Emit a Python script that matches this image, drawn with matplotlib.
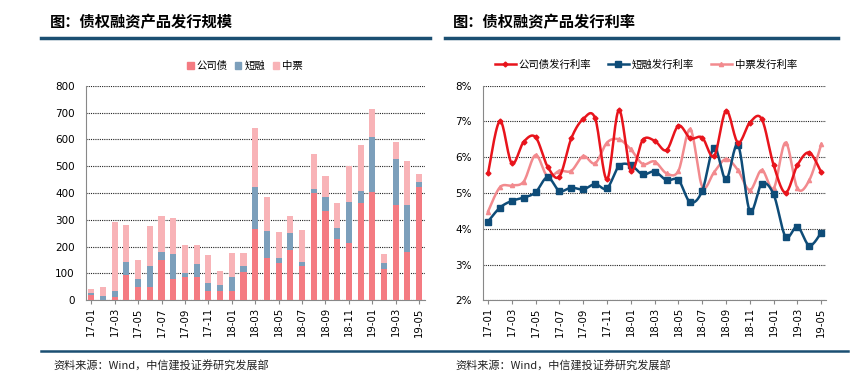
import numpy as np
import matplotlib
matplotlib.use("Agg")
import matplotlib.pyplot as plt
from matplotlib.lines import Line2D
from matplotlib.patches import Patch

plt.rcParams['font.family'] = ['Noto Sans CJK SC', 'DejaVu Sans']

months = ['17-01','17-02','17-03','17-04','17-05','17-06','17-07','17-08','17-09','17-10','17-11','17-12',
          '18-01','18-02','18-03','18-04','18-05','18-06','18-07','18-08','18-09','18-10','18-11','18-12',
          '19-01','19-02','19-03','19-04','19-05']

corp_bond = [19, 2, 11, 93, 48, 48, 150, 81, 86, 88, 35, 35, 35, 104, 266, 159, 140, 186, 129, 401, 332, 229, 215, 363, 404, 117, 354, 180, 424]
short_fin = [10, 15, 25, 51, 30, 81, 30, 93, 15, 49, 31, 23, 53, 25, 155, 101, 19, 65, 15, 13, 54, 41, 151, 44, 203, 23, 173, 174, 18]
mtn = [13, 31, 257, 136, 74, 149, 134, 134, 104, 68, 103, 50, 90, 46, 220, 126, 96, 63, 118, 130, 76, 93, 133, 171, 106, 31, 63, 164, 29]

corp_rate = [5.55, 7.01, 5.83, 6.43, 6.56, 5.74, 5.46, 6.53, 7.07, 7.09, 5.38, 7.32, 5.62, 6.48, 6.46, 6.20, 6.88, 6.53, 6.55, 6.03, 7.30, 6.41, 6.97, 7.07, 5.78, 5.01, 5.78, 6.13, 5.58]
short_rate = [4.20, 4.59, 4.78, 4.87, 5.02, 5.44, 5.06, 5.15, 5.10, 5.25, 5.13, 5.75, 5.78, 5.52, 5.60, 5.36, 5.36, 4.74, 5.06, 6.27, 5.38, 6.34, 4.50, 5.26, 4.96, 3.78, 4.06, 3.53, 3.89]
mtn_rate = [4.48, 5.16, 5.21, 5.32, 6.06, 5.46, 5.62, 5.62, 6.03, 5.83, 6.41, 6.50, 6.22, 5.81, 5.88, 5.55, 5.62, 6.78, 5.18, 5.58, 5.95, 5.64, 5.08, 5.64, 5.13, 6.41, 5.13, 5.36, 6.36]

bar_labels = ['公司债', '短融', '中票']
line_labels = ['公司债发行利率', '短融发行利率', '中票发行利率']

W, H = 851, 389
fig = plt.figure(figsize=(W/100, H/100), dpi=100)

def ax_rect(x0, y0, x1, y1):
    return [x0/W, 1 - y1/H, (x1-x0)/W, (y1-y0)/H]

def smooth(xs, ys, n=16):
    xs = np.asarray(xs, float); ys = np.asarray(ys, float)
    P = np.column_stack([xs, ys])
    out = []
    for i in range(len(P)-1):
        p0 = P[i-1] if i > 0 else P[i]
        p1 = P[i]; p2 = P[i+1]
        p3 = P[i+2] if i+2 < len(P) else P[i+1]
        c1 = p1 + (p2 - p0)/6
        c2 = p2 - (p3 - p1)/6
        t = np.linspace(0, 1, n, endpoint=(i == len(P)-2))[:, None]
        seg = (1-t)**3*p1 + 3*(1-t)**2*t*c1 + 3*(1-t)*t**2*c2 + t**3*p2
        out.append(seg)
    out = np.vstack(out)
    return out[:, 0], out[:, 1]

dark = '#1B4F72'
# titles and rules
fig.text(50/W, 1-22/H, '图：债权融资产品发行规模', fontsize=11, fontweight='heavy', va='center', ha='left')
fig.text(453/W, 1-22/H, '图：债权融资产品发行利率', fontsize=11, fontweight='heavy', va='center', ha='left')
fig.add_artist(Line2D([41/W, 430/W], [1-38/H, 1-38/H], color=dark, lw=2.5))
fig.add_artist(Line2D([445/W, 838/W], [1-38/H, 1-38/H], color=dark, lw=2.5))
fig.add_artist(Line2D([41/W, 848/W], [1-351/H, 1-351/H], color=dark, lw=1.8))
fig.text(53/W, 1-366/H, '资料来源：Wind，中信建投证券研究发展部', fontsize=8, style='italic', va='center', ha='left', color='#222222')
fig.text(455/W, 1-366/H, '资料来源：Wind，中信建投证券研究发展部', fontsize=8, style='italic', va='center', ha='left', color='#222222')

x = np.arange(len(months))

# ---- left: stacked bars
c_red, c_blue, c_pink = '#F47B82', '#7C9FBB', '#F8B3B7'
ax1 = fig.add_axes(ax_rect(86, 85.7, 425, 300.3))
b1 = np.array(corp_bond); b2 = np.array(short_fin); b3 = np.array(mtn)
ax1.bar(x, b1, width=0.52, color=c_red, zorder=3)
ax1.bar(x, b2, width=0.52, bottom=b1, color=c_blue, zorder=3)
ax1.bar(x, b3, width=0.52, bottom=b1+b2, color=c_pink, zorder=3)
ax1.set_ylim(0, 800)
ax1.set_xlim(-0.45, 28.5)
ax1.set_yticks(range(0, 801, 100))
ax1.yaxis.grid(True, linestyle=(0, (1, 1)), color='#222222', lw=0.8, zorder=0)
ax1.set_xticks(x[::2])
ax1.set_xticklabels(months[::2], rotation=90, fontsize=7.3, family='DejaVu Sans')
ax1.tick_params(axis='y', labelsize=7.5, length=0, pad=8)
ax1.tick_params(axis='x', length=3, color='#888888', pad=2)
for lbl in ax1.get_yticklabels():
    lbl.set_family('DejaVu Sans')
for s in ['top', 'right']:
    ax1.spines[s].set_visible(False)
for s in ['left', 'bottom']:
    ax1.spines[s].set_color('#888888')
    ax1.spines[s].set_linewidth(0.8)
handles = [Patch(color=c) for c in (c_red, c_blue, c_pink)]
fig.legend(handles, bar_labels, loc='center', bbox_to_anchor=(245/W, 1-66/H), ncol=3, frameon=False,
           fontsize=7.5, handlelength=0.6, handleheight=0.6, handletextpad=0.3, columnspacing=0.7)

# ---- right: lines
l_red, l_blue, l_pink = '#E8141C', '#0E4C78', '#F28A8E'
ax2 = fig.add_axes(ax_rect(483, 85.7, 826, 300.3))
series = [(corp_rate, l_red, 'D', 2.5, 3), (short_rate, l_blue, 's', 4.5, 2), (mtn_rate, l_pink, '^', 3, 1)]
for ys, col, mk, ms, z in series[::-1]:
    sx, sy = smooth(x, ys)
    ax2.plot(sx, sy, color=col, lw=1.8, zorder=z+2)
    ax2.plot(x, ys, linestyle='none', marker=mk, ms=ms, color=col, zorder=z+2)
ax2.set_ylim(2, 8)
ax2.set_xlim(-0.42, 28.4)
ax2.set_yticks(range(2, 9))
ax2.set_yticklabels([f'{v}%' for v in range(2, 9)], family='DejaVu Sans')
ax2.yaxis.grid(True, linestyle=(0, (1, 1)), color='#222222', lw=0.8, zorder=0)
ax2.set_xticks(x[::2])
ax2.set_xticklabels(months[::2], rotation=90, fontsize=7.3, family='DejaVu Sans')
ax2.tick_params(axis='y', labelsize=7.5, length=0, pad=8)
ax2.tick_params(axis='x', length=3, color='#888888', pad=2)
for s in ['top', 'right']:
    ax2.spines[s].set_visible(False)
for s in ['left', 'bottom']:
    ax2.spines[s].set_color('#888888')
    ax2.spines[s].set_linewidth(0.8)
lh = [Line2D([], [], color=c, marker=m, ms=ms, lw=1.8) for _, c, m, ms, _ in series]
fig.legend(lh, line_labels, loc='center', bbox_to_anchor=(646/W, 1-65/H), ncol=3, frameon=False,
           fontsize=7.5, handlelength=2.0, handletextpad=0.3, columnspacing=1.6)

fig.savefig('out.png', dpi=100)
